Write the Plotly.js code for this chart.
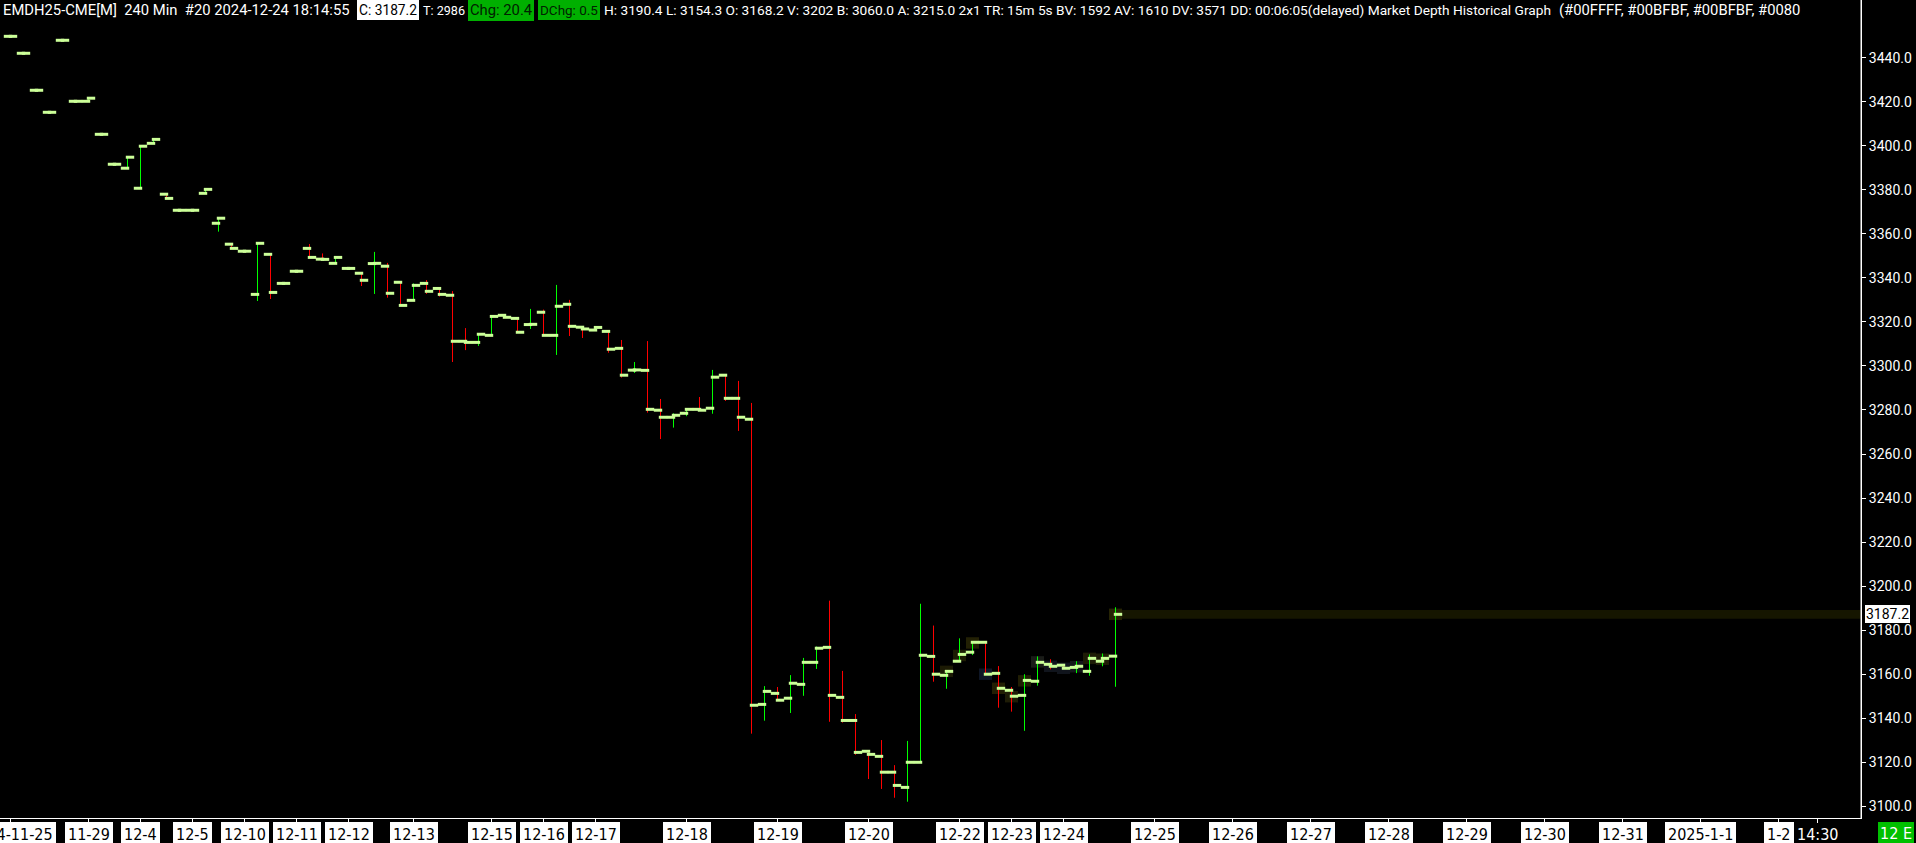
<!DOCTYPE html>
<html><head><meta charset="utf-8">
<script src="https://cdn.plot.ly/plotly-3.0.1.min.js"></script>
<style>html,body{margin:0;padding:0;background:#000;overflow:hidden}#chart{width:1916px;height:843px}</style>
</head><body><div id="chart"></div>
<script>
// ---------------- DATA ----------------
const barOpen = [3449.7,3442.0,3425.2,3415.2,3447.9,3420.2,3420.2,3405.2,3391.6,3389.8,
3380.7,3401.1,3378.0,3370.7,3370.7,3378.4,3364.8,3355.3,3352.1,3332.5,
3350.7,3337.5,3343.0,3353.4,3348.5,3346.6,3344.3,3342.1,3346.5,3345.3,
3338.0,3329.8,3337.5,3335.2,3332.1,3311.2,3310.7,3313.9,3323.0,3321.6,
3318.8,3324.4,3313.9,3328.0,3317.6,3316.3,3315.7,3308.0,3298.1,3298.0,
3279.9,3276.7,3278.5,3280.3,3280.8,3295.8,3285.3,3275.8,3146.3,3151.3,
3149.1,3155.4,3165.4,3172.2,3149.5,3139.0,3125.0,3122.7,3115.5,3108.6,
3120.0,3168.1,3159.5,3165.9,3170.0,3174.5,3160.4,3152.7,3150.4,3156.8,
3164.5,3164.1,3163.1,3161.3,3165.9,3168.2];
const barHigh = [3449.7,3442.0,3425.2,3415.2,3447.9,3420.2,3421.6,3405.2,3391.6,3394.8,
3399.8,3402.9,3378.0,3370.7,3370.7,3380.2,3367.1,3355.3,3352.1,3356.0,
3350.7,3337.5,3343.0,3355.4,3351.1,3349.3,3344.3,3342.1,3351.8,3346.8,
3338.0,3337.5,3339.0,3335.2,3334.0,3317.2,3314.4,3322.5,3323.0,3321.6,
3325.9,3325.6,3336.8,3330.0,3318.0,3318.0,3316.0,3311.8,3301.8,3311.3,
3285.0,3278.5,3280.3,3285.9,3298.2,3295.8,3293.2,3283.2,3154.6,3154.2,
3159.6,3167.4,3172.6,3193.4,3161.5,3141.9,3125.0,3130.1,3118.7,3129.7,
3192.0,3182.1,3161.3,3176.3,3175.0,3174.5,3163.7,3154.2,3160.0,3168.1,
3166.8,3164.1,3165.9,3169.0,3169.4,3190.4];
const barLow = [3449.7,3442.0,3425.2,3415.2,3447.9,3420.2,3420.2,3405.2,3391.6,3389.8,
3380.7,3401.1,3376.1,3370.7,3370.7,3378.4,3361.0,3353.4,3352.1,3329.5,
3330.4,3337.5,3343.0,3349.3,3348.4,3346.6,3344.3,3336.3,3332.7,3331.0,
3327.5,3329.8,3332.7,3331.5,3301.8,3307.2,3309.1,3313.9,3322.1,3315.3,
3316.8,3313.9,3305.0,3313.6,3312.7,3316.0,3306.0,3294.7,3296.8,3278.8,
3266.8,3272.0,3277.2,3279.9,3278.3,3284.1,3270.5,3133.0,3138.9,3148.2,
3142.4,3150.2,3162.4,3138.4,3138.0,3123.4,3112.4,3107.9,3103.9,3102.1,
3120.0,3156.6,3153.4,3165.9,3168.7,3160.0,3144.8,3143.0,3134.3,3154.8,
3162.2,3162.7,3160.5,3159.3,3163.6,3154.3];
const barClose = [3449.7,3442.0,3425.2,3415.2,3447.9,3420.2,3421.6,3405.2,3391.6,3394.8,
3399.8,3402.9,3376.1,3370.7,3370.7,3380.2,3367.1,3353.4,3352.1,3355.7,
3333.4,3337.5,3343.0,3349.3,3348.4,3349.3,3344.3,3338.9,3346.6,3333.0,
3327.5,3336.6,3333.9,3332.5,3311.2,3310.7,3314.4,3322.5,3322.1,3315.3,
3318.9,3313.9,3327.1,3318.0,3316.8,3317.5,3307.6,3295.8,3298.2,3280.3,
3276.7,3277.6,3280.3,3279.9,3294.9,3285.3,3276.7,3145.9,3152.2,3148.2,
3155.9,3165.4,3171.8,3150.4,3139.0,3124.5,3123.6,3115.5,3109.5,3120.0,
3168.6,3160.0,3161.3,3169.0,3174.5,3160.0,3153.6,3150.0,3157.2,3165.4,
3163.6,3162.7,3163.6,3167.2,3167.2,3187.2];

// market-depth shading behind the most recent bars (bar index, price level, tint)
const depthBars   = [72,73,74,75,76,77,78,79,80,81,82,83,84,85];
const depthLevels = [3161.3,3168.5,3174.2,3160.0,3153.6,3149.8,3157.0,3165.6,3163.6,3162.7,3163.4,3167.2,3166.8,3187.2];
const depthTints  = ['#1c1a04','#1c1c04','#222004','#0e1626','#221f04','#1e1c06','#201e04','#1a1c18','#10141c','#10141c','#14161a','#1e1c06','#1e1c06','#262404'];

const tickIndex  = [0,6,10,14,18,22,26,31,37,41,45,52,59,66,73,77,81,88,94,100,106,112,118,124,130,136,139];
const tickLabels = ['2024-11-25','11-29','12-4','12-5','12-10','12-11','12-12','12-13','12-15','12-16','12-17','12-18',
                    '12-19','12-20','12-22','12-23','12-24','12-25','12-26','12-27','12-28','12-29','12-30','12-31',
                    '2025-1-1','1-2','14:30'];
const yTickValues = [3100,3120,3140,3160,3180,3200,3220,3240,3260,3280,3300,3320,3340,3360,3380,3400,3420,3440];

const lastPrice = 3187.2;
const headerMain = 'EMDH25-CME[M]\u00a0\u00a0240 Min\u00a0\u00a0#20 2024-12-24 18:14:55';
const headerClose = 'C: 3187.2';
const headerTrades = 'T: 2986';
const headerChg = 'Chg: 20.4';
const headerDChg = 'DChg: 0.5';
const headerRest = 'H: 3190.4 L: 3154.3 O: 3168.2 V: 3202 B: 3060.0 A: 3215.0 2x1 TR: 15m 5s BV: 1592 AV: 1610 DV: 3571 DD: 00:06:05(delayed) Market Depth Historical Graph';
const headerColors = '(#00FFFF, #00BFBF, #00BFBF, #0080';
const cornerLabel = '12 E';

// ---------------- GEOMETRY / STYLE ----------------
const W = 1916, H = 843;
const M = {l:0, r:55, t:0, b:25};
const PW = W - M.l - M.r, PH = H - M.t - M.b;
const SLOT = 13, FIRST = 10.5;               // px per bar, px of first bar centre
const xMin = -FIRST / SLOT, xMax = (PW - FIRST) / SLOT;
const yMin = 3094.7, yMax = 3466.2;
const TICK_OFF = 2.5 / SLOT;
const NARROW = '"Liberation Sans Narrow", "DejaVu Sans Condensed", "Arial Narrow", sans-serif';
const HEADF = 'Roboto, "Liberation Sans", sans-serif';

const ctx = document.createElement('canvas').getContext('2d');
function tw(t, size, fam){ ctx.font = size + 'px ' + fam; return ctx.measureText(t.replace(/\u00a0/g,' ')).width; }
const px2x = p => p / PW;
const px2y = p => 1 - p / PH;

// ---------------- TRACES ----------------
const idx = barOpen.map((_, i) => i);
function vlines(up){
  const xs = [], ys = [];
  idx.forEach(i => {
    const isUp = barClose[i] >= barOpen[i];
    if (isUp === up) { xs.push(i, i, null); ys.push(barHigh[i], barLow[i], null); }
  });
  return {xs, ys};
}
const upL = vlines(true), dnL = vlines(false);
const traces = [
  {type:'scatter', mode:'lines', x:upL.xs, y:upL.ys, line:{color:'#00ff00', width:1}, hoverinfo:'skip', connectgaps:false},
  {type:'scatter', mode:'lines', x:dnL.xs, y:dnL.ys, line:{color:'#ff0000', width:1}, hoverinfo:'skip', connectgaps:false},
  {type:'scatter', mode:'markers', x:idx.map(i => i - TICK_OFF), y:barOpen,
   marker:{symbol:'line-ew', size:6, line:{width:3, color:'#ccff99'}}, hoverinfo:'skip'},
  {type:'scatter', mode:'markers', x:idx.map(i => i + TICK_OFF), y:barClose,
   marker:{symbol:'line-ew', size:6, line:{width:3, color:'#ccff99'}}, hoverinfo:'skip'}
];

// ---------------- ANNOTATIONS ----------------
const ann = [];
const HEAD_FS = Math.min(16, 100 * (1552 - 604) / tw(headerRest, 100, HEADF));
const hy = px2y(10);
function head(text, leftPx, targetW, opts){
  let fs = HEAD_FS;
  if (targetW) fs = Math.min(HEAD_FS * 1.08, Math.max(HEAD_FS * 0.92, 100 * targetW / tw(text, 100, HEADF)));
  const o = Object.assign({xref:'paper', yref:'paper', x:px2x(leftPx), y:hy, xanchor:'left', yanchor:'middle',
    text, showarrow:false, borderpad:0, borderwidth:0}, opts || {});
  o.font = Object.assign({family:HEADF, color:'#ffffff'}, (opts && opts.font) || {});
  o.font.size = fs;
  ann.push(o);
}
head(headerMain, 3, 348);
head(headerClose, 357, 58, {bgcolor:'#ffffff', font:{color:'#000000'}, borderpad:2});
head(headerTrades, 423, 42);
head(headerChg, 468, 64, {bgcolor:'#00b000', font:{color:'#002200'}, borderpad:2});
head(headerDChg, 538, 58, {bgcolor:'#00b000', font:{color:'#002200'}, borderpad:2});
head(headerRest, 604, 0);
head(headerColors, 1559, 298);

// x tick labels
tickLabels.forEach((lab, k) => {
  const boxed = k < tickLabels.length - 1;
  ann.push({xref:'x', yref:'paper', x:tickIndex[k], y:0, yshift:-4, xanchor:'center', yanchor:'top',
    text:lab, showarrow:false, bgcolor: boxed ? '#ffffff' : 'rgba(0,0,0,0)',
    font:{family:NARROW, size:16, color: boxed ? '#000000' : '#ffffff'}, borderpad:3, borderwidth:0});
});
// last price label
ann.push({xref:'paper', yref:'y', x:px2x(PW + 4), y:lastPrice, xanchor:'left', yanchor:'middle',
  text:lastPrice.toFixed(1), showarrow:false, bgcolor:'#ffffff', font:{family:HEADF, size:14, color:'#000000'}, borderpad:1, borderwidth:0});
// corner label
ann.push({xref:'paper', yref:'paper', x:px2x(W - 2), y:0, yshift:-4, xanchor:'right', yanchor:'top',
  text:cornerLabel, showarrow:false, bgcolor:'#00c000', font:{family:NARROW, size:16, color:'#ffffff'}, borderpad:2, borderwidth:0});

// ---------------- SHAPES ----------------
const last = barClose.length - 1;
const shapes = [
  {type:'rect', xref:'x', yref:'y', x0:last - 0.45, x1:xMax, y0:barClose[last] - 2, y1:barClose[last] + 2,
   fillcolor:'#161600', line:{width:0}, layer:'below'},
  {type:'line', xref:'paper', yref:'paper', x0:1, x1:1, y0:1, y1:0, line:{color:'#ffffff', width:1}}
];
depthBars.forEach((b, k) => shapes.push({type:'rect', xref:'x', yref:'y', x0:b - 0.5, x1:b + 0.5,
  y0:depthLevels[k] - 2.6, y1:depthLevels[k] + 2.6, fillcolor:depthTints[k], line:{width:0}, layer:'below'}));

const layout = {
  width:W, height:H, margin:M, paper_bgcolor:'#000000', plot_bgcolor:'#000000', showlegend:false,
  hovermode:false,
  xaxis:{range:[xMin, xMax], showgrid:false, zeroline:false, showline:true, linecolor:'#ffffff', linewidth:1,
    ticks:'outside', ticklen:4, tickcolor:'#ffffff', tickwidth:1, tickmode:'array', tickvals:tickIndex,
    ticktext:tickIndex.map(() => ''), showticklabels:false, fixedrange:true},
  yaxis:{range:[yMin, yMax], side:'right', showgrid:false, zeroline:false, showline:true, linecolor:'#ffffff', linewidth:1,
    ticks:'outside', ticklen:4, tickcolor:'#ffffff', tickmode:'array', tickvals:yTickValues,
    ticktext:yTickValues.map(v => v.toFixed(1)), tickfont:{family:HEADF, size:14, color:'#ffffff'}, fixedrange:true},
  annotations:ann, shapes
};
Plotly.newPlot('chart', traces, layout, {staticPlot:true, displayModeBar:false});
</script></body></html>
